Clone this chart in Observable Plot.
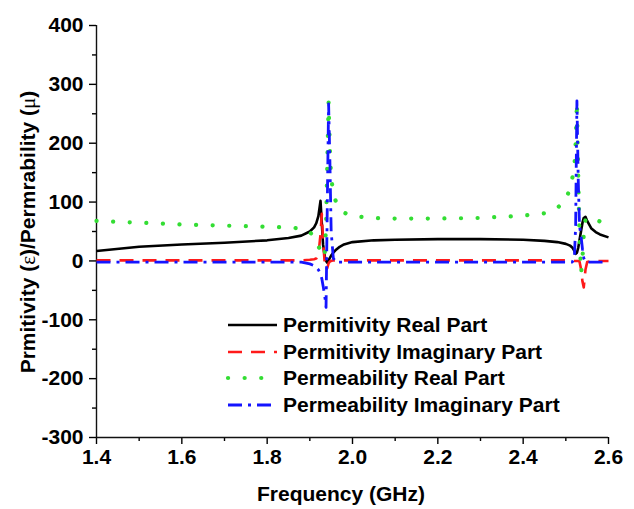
<!DOCTYPE html>
<html>
<head>
<meta charset="utf-8">
<script src="https://cdn.jsdelivr.net/npm/d3@7"></script>
<script src="https://cdn.jsdelivr.net/npm/@observablehq/plot@0.6"></script>
<style>
  html, body { margin: 0; padding: 0; background: #fff; }
  #chart { width: 634px; height: 509px; }
</style>
</head>
<body>
<div id="chart"></div>
<script>
// Frequency samples (GHz)
const freq = [1.40, 1.50, 1.60, 1.70, 1.80, 1.85, 1.88, 1.90, 1.91, 1.915, 1.92, 1.925, 1.928, 1.931, 1.935, 1.938, 1.941, 1.944, 1.947, 1.95, 1.955, 1.96, 1.97, 1.98, 2.00, 2.05, 2.10, 2.20, 2.30, 2.40, 2.45, 2.48, 2.50, 2.51, 2.515, 2.52, 2.523, 2.526, 2.529, 2.532, 2.536, 2.539, 2.542, 2.546, 2.55, 2.56, 2.57, 2.58, 2.60];

// Permittivity real part (black solid)
const permittivityReal = [17, 24, 28, 31, 35, 39, 43, 50, 57, 64, 76, 102, 65, 28, 8, 0, -3, 1, 5, 9, 14, 18, 24, 28, 32, 35, 36, 37, 37, 36, 34, 32, 29, 26, 23, 17, 12, 14, 22, 35, 52, 65, 73, 75, 68, 55, 49, 45, 40];

// Permittivity imaginary part (red dashed)
const permittivityImag = [1, 1, 1, 1, 1, 1, 1, 2, 3, 4, 10, 45, 80, 35, -5, -15, -12, -4, -1, 0, 1, 1, 1, 1, 1, 1, 1, 1, 1, 1, 1, 1, 1, 0, 0, 0, 0, 0, 0, -1, -15, -35, -45, -15, -2, 0, 0, 0, 0];

// Permeability real part (green dotted)
const permeabilityReal = [68, 65, 62, 60, 58, 57, 55, 49, 41, 32, 25, 18, 12, 6, 10, 60, 170, 270, 190, 140, 118, 103, 89, 82, 76, 73, 72, 72, 73, 77, 81, 90, 103, 125, 140, 160, 200, 270, 150, 40, -20, 5, 45, 70, 74, 73, 70, 67, 64];

// Permeability imaginary part (blue dash-dot)
const permeabilityImag = [-2, -2, -2, -2, -2, -2, -2, -5, -8, -11, -15, -22, -30, -42, -60, -79, 100, 267, 170, 50, 5, -2, -2, -2, -2, -2, -2, -2, -2, -2, -2, -2, -2, -2, -2, 5, 60, 272, 140, 60, 40, 20, 5, -2, -2, -2, -2, -2, -2];

const seriesNames = ["Permitivity Real Part", "Permitivity Imaginary Part", "Permeability Real Part", "Permeability Imaginary Part"];
const xTicks = [1.4, 1.6, 1.8, 2.0, 2.2, 2.4, 2.6];
const xMinorTicks = [1.5, 1.7, 1.9, 2.1, 2.3, 2.5];
const yTicks = [-300, -200, -100, 0, 100, 200, 300, 400];
const yMinorTicks = [-250, -150, -50, 50, 150, 250, 350];
const xTitle = "Frequency (GHz)";

const styles = [
  {stroke: "#000000", strokeWidth: 2.6, strokeDasharray: null, strokeLinecap: "butt"},
  {stroke: "#ff1a1a", strokeWidth: 2.6, strokeDasharray: "14 9", strokeLinecap: "butt"},
  {stroke: "#33dd33", strokeWidth: 4.2, strokeDasharray: "0.1 16.5", strokeLinecap: "round"},
  {stroke: "#1414ff", strokeWidth: 2.8, strokeDasharray: "14 6 3 6", strokeLinecap: "butt"}
];
const seriesValues = [permittivityReal, permittivityImag, permeabilityReal, permeabilityImag];
const seriesRows = seriesValues.map(vals => freq.map((f, i) => ({f, v: vals[i]})));

const font = "'Liberation Sans', Arial, Helvetica, sans-serif";
const fs = 21;

const plot = Plot.plot({
  width: 634,
  height: 509,
  marginLeft: 96,
  marginRight: 26,
  marginTop: 25,
  marginBottom: 72,
  x: {domain: [1.4, 2.6]},
  y: {domain: [-300, 400]},
  style: {fontFamily: font, fontSize: fs + "px", fontWeight: "bold", color: "#000", background: "#fff"},
  marks: [
    Plot.axisX({ticks: xMinorTicks, tickSize: 4, tickFormat: () => "", label: null, strokeWidth: 1.4}),
    Plot.axisX({ticks: xTicks, tickSize: 7, tickPadding: 5, tickFormat: d => d.toFixed(1), label: null, fontSize: fs, fontWeight: "bold", strokeWidth: 1.4}),
    Plot.axisY({ticks: yMinorTicks, tickSize: 4, tickFormat: () => "", label: null, strokeWidth: 1.4}),
    Plot.axisY({ticks: yTicks, tickSize: 7, tickPadding: 6, tickFormat: d => String(d), label: null, fontSize: fs, fontWeight: "bold", strokeWidth: 1.4}),
    Plot.ruleX([1.4], {stroke: "#111", strokeWidth: 1.4}),
    Plot.ruleY([-300], {stroke: "#111", strokeWidth: 1.4}),
    ...seriesRows.map((rows, k) => Plot.line(rows, {
      x: "f", y: "v",
      stroke: styles[k].stroke,
      strokeWidth: styles[k].strokeWidth,
      strokeDasharray: styles[k].strokeDasharray,
      strokeLinecap: styles[k].strokeLinecap,
      strokeLinejoin: "round",
      curve: "linear"
    }))
  ]
});

document.getElementById("chart").appendChild(plot);

const svg = d3.select(plot);

// X axis title
svg.append("text")
  .attr("x", 341).attr("y", 501)
  .attr("text-anchor", "middle")
  .attr("font-family", font).attr("font-size", fs).attr("font-weight", "bold")
  .attr("fill", "#000")
  .text(xTitle);

// Y axis title with Greek symbols
const yt = svg.append("text")
  .attr("transform", "translate(35,232) rotate(-90)")
  .attr("text-anchor", "middle")
  .attr("font-family", font).attr("font-size", fs).attr("font-weight", "bold")
  .attr("fill", "#000");
yt.append("tspan").text("Prmitivity (");
yt.append("tspan").attr("font-family", "'Liberation Serif', 'DejaVu Serif', serif").attr("font-weight", "normal").text("ε");
yt.append("tspan").text(")/Permrability (");
yt.append("tspan").attr("font-family", "'Liberation Serif', 'DejaVu Serif', serif").attr("font-weight", "normal").text("μ");
yt.append("tspan").text(")");

// Legend
const legend = svg.append("g").attr("text-anchor", "start");
const rowY = [325, 352, 378, 405];
seriesNames.forEach((name, k) => {
  legend.append("line")
    .attr("x1", 228).attr("x2", 277)
    .attr("y1", rowY[k]).attr("y2", rowY[k])
    .attr("stroke", styles[k].stroke)
    .attr("stroke-width", styles[k].strokeWidth)
    .attr("stroke-dasharray", styles[k].strokeDasharray)
    .attr("stroke-linecap", styles[k].strokeLinecap);
  legend.append("text")
    .attr("x", 283).attr("y", rowY[k])
    .attr("dy", "0.35em")
    .attr("text-anchor", "start")
    .attr("font-family", font).attr("font-size", fs).attr("font-weight", "bold")
    .attr("fill", "#000")
    .text(name);
});
</script>
</body>
</html>
